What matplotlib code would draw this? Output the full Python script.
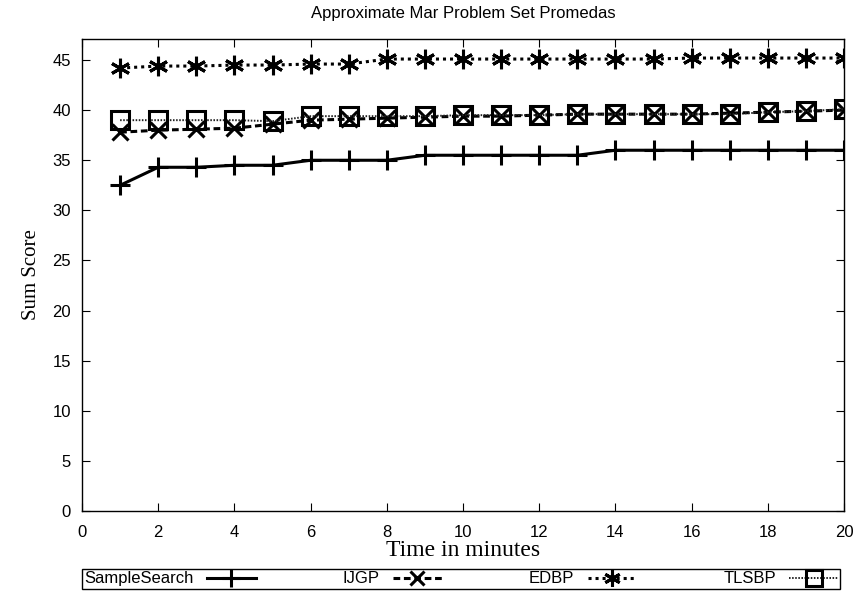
import matplotlib
matplotlib.use("Agg")
import matplotlib.pyplot as plt

minutes = list(range(1, 21))
sample_search = [32.5, 34.3, 34.3, 34.5, 34.5, 35.0, 35.0, 35.0, 35.5, 35.5,
                 35.5, 35.5, 35.5, 36.0, 36.0, 36.0, 36.0, 36.0, 36.0, 36.0]
ijgp = [37.8, 38.0, 38.1, 38.2, 38.6, 39.0, 39.1, 39.2, 39.3, 39.4,
        39.4, 39.5, 39.6, 39.6, 39.6, 39.6, 39.7, 39.8, 39.9, 40.0]
edbp = [44.2, 44.4, 44.4, 44.5, 44.5, 44.6, 44.6, 45.1, 45.1, 45.1,
        45.1, 45.1, 45.1, 45.1, 45.1, 45.2, 45.2, 45.2, 45.2, 45.2]
tlsbp = [39.0, 39.0, 39.0, 39.0, 38.9, 39.4, 39.4, 39.4, 39.4, 39.5,
         39.5, 39.5, 39.6, 39.6, 39.6, 39.6, 39.6, 39.8, 39.9, 40.1]
series_names = ["SampleSearch", "IJGP", "EDBP", "TLSBP"]
x_ticks = list(range(0, 21, 2))
y_ticks = list(range(0, 46, 5))

plt.rcParams['font.family'] = ['Liberation Sans', 'DejaVu Sans']

fig = plt.figure(figsize=(8.55, 5.91), dpi=100)
ax = fig.add_axes([82/855, 1 - 511/591, (844-82)/855, (511-39)/591])

ms = 13
mew = 2.2
ax.plot(minutes, sample_search, color='black', lw=2.2, ls='-', marker='+',
        ms=ms + 2, mew=mew, label=series_names[0])
ax.plot(minutes, ijgp, color='black', lw=2.2, ls=(0, (2.2, 1.2)), marker='x',
        ms=ms - 1, mew=mew, label=series_names[1])
ax.plot(minutes, edbp, color='black', lw=2.2, ls=(0, (1, 1.3)), marker=(6, 2, 0),
        ms=ms + 1, mew=mew, label=series_names[2])
ax.plot(minutes, tlsbp, color='#222222', lw=1.4, ls=(0, (0.8, 0.8)), marker='s',
        ms=ms, mew=mew, mec='black', fillstyle='none', label=series_names[3])

ax.set_xlim(0, 20)
ax.set_ylim(0, 47.1)
ax.set_xticks(x_ticks)
ax.set_yticks(y_ticks)
ax.tick_params(direction='in', length=6, width=0.8, top=True, right=True,
               labelsize=12)
ax.tick_params(axis='x', pad=10)
ax.tick_params(axis='y', pad=8)
for s in ax.spines.values():
    s.set_linewidth(1.0)

ax.set_title("Approximate Mar Problem Set Promedas", fontsize=12, pad=15)
ax.set_xlabel("Time in minutes", family=['Liberation Serif'], fontsize=17, labelpad=0)
ax.set_ylabel("Sum Score", family=['Liberation Serif'], fontsize=15, labelpad=8)

leg = ax.legend(loc='lower left', bbox_to_anchor=(0, -0.165, 0.995, 0.03),
                ncol=4, mode='expand', markerfirst=False, fancybox=False,
                edgecolor='black', framealpha=1, fontsize=12, handlelength=2.9,
                handletextpad=0.8, borderpad=0.15, borderaxespad=0,
                columnspacing=1.0, markerscale=0.85)
leg.get_frame().set_linewidth(1.0)

fig.savefig("out.png", dpi=100)
